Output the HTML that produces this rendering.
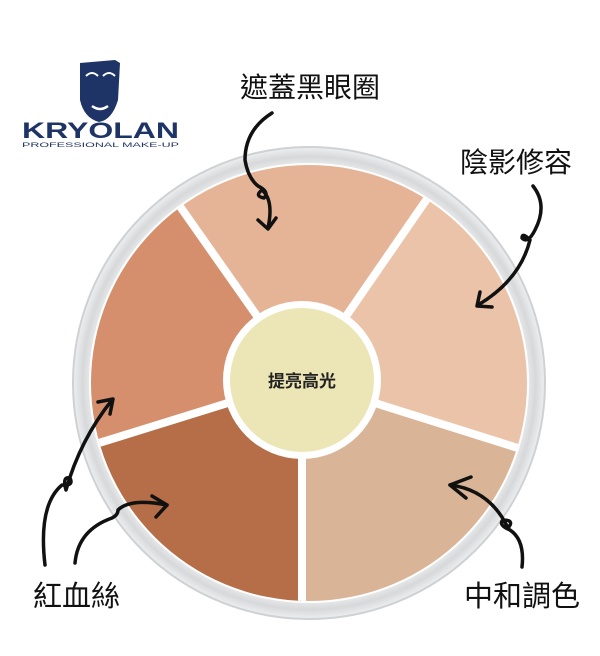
<!DOCTYPE html>
<html><head><meta charset="utf-8"><style>
html,body{margin:0;padding:0;background:#fff;}
svg{display:block}
text{font-family:"Liberation Sans","Noto Sans CJK TC",sans-serif;}
</style></head><body>
<svg width="600" height="656" viewBox="0 0 600 656" xmlns="http://www.w3.org/2000/svg">
<defs>
<radialGradient id="rim" cx="50%" cy="50%" r="50%">
<stop offset="90%" stop-color="#f6f6f6"/><stop offset="96%" stop-color="#d6d8da"/><stop offset="100%" stop-color="#eeeff0"/>
</radialGradient>
<clipPath id="pan"><circle cx="309" cy="383" r="218"/></clipPath>
</defs>
<!-- logo -->
<path d="M80 63 L115 60 L120 63 L118 100 Q112 120 99 122 Q84 118 80 100 Z" fill="#1e3366"/>
<path d="M86 76 q6 -6 12 0 M103 76 q6 -6 12 0" stroke="#fff" stroke-width="2" fill="none"/>
<path d="M92 106 q8 6 16 0" stroke="#fff" stroke-width="2.5" fill="none"/>
<text x="22" y="138" font-size="22" font-weight="bold" fill="#1e3366" textLength="157" lengthAdjust="spacingAndGlyphs">KRYOLAN</text>
<text x="22" y="147" font-size="6" fill="#1e3366" textLength="157" lengthAdjust="spacingAndGlyphs">PROFESSIONAL MAKE-UP</text>
<!-- palette -->
<circle cx="309" cy="383" r="236" fill="url(#rim)" stroke="#cfd1d3" stroke-width="2"/>
<circle cx="309" cy="383" r="220" fill="#fff"/>
<g clip-path="url(#pan)">
<path d="M302 380 L150 160 L450 160 Z" fill="#e5b496"/>
<path d="M302 380 L450 160 L560 150 L560 460 Z" fill="#ebc3a9"/>
<path d="M302 380 L560 460 L560 640 L302 640 Z" fill="#dab496"/>
<path d="M302 380 L302 640 L60 640 L60 450 Z" fill="#b56e47"/>
<path d="M302 380 L60 450 L60 150 L150 160 Z" fill="#d58f6d"/>
<g stroke="#fff" stroke-width="8">
<line x1="302" y1="380" x2="160" y2="178"/>
<line x1="302" y1="380" x2="440" y2="180"/>
<line x1="302" y1="380" x2="540" y2="455"/>
<line x1="302" y1="380" x2="302" y2="620"/>
<line x1="302" y1="380" x2="70" y2="452"/>
</g>
</g>
<circle cx="302" cy="380" r="79" fill="#fff"/>
<circle cx="302" cy="380" r="72" fill="#ece5b6"/>
<text x="302" y="387" font-size="17" font-weight="bold" text-anchor="middle" fill="#222">提亮高光</text>
<!-- labels -->
<text x="240" y="97" font-size="28" fill="#111">遮蓋黑眼圈</text>
<text x="460" y="172" font-size="28" fill="#111">陰影修容</text>
<text x="33" y="606" font-size="29" fill="#111">紅血絲</text>
<text x="464" y="606" font-size="29" fill="#111">中和調色</text>
<!-- arrows -->
<g stroke="#111" stroke-width="3.5" fill="none" stroke-linecap="round" stroke-linejoin="round">
<path d="M272 113 Q245 130 245 160 Q248 178 258 186 Q270 192 264 198 Q254 196 262 190 Q274 200 268 228"/>
<path d="M258 220 L268 229 L276 218"/>
<path d="M533 186 Q548 205 535 230 Q528 244 522 238 Q522 232 530 240 Q520 280 478 305"/>
<path d="M480 292 L477 306 L492 307"/>
<path d="M45 565 Q38 505 62 485 Q74 486 70 478 Q62 476 66 490 Q80 440 112 400"/>
<path d="M98 402 L113 399 L110 414"/>
<path d="M75 563 Q78 530 112 518 Q118 515 118 510 Q130 498 167 505"/>
<path d="M152 496 L167 505 L156 517"/>
<path d="M522 567 Q525 540 510 530 Q498 525 503 520 Q515 520 508 528 Q490 490 450 485"/>
<path d="M471 477 L450 485 L466 498"/>
</g>
</svg>
</body></html>
